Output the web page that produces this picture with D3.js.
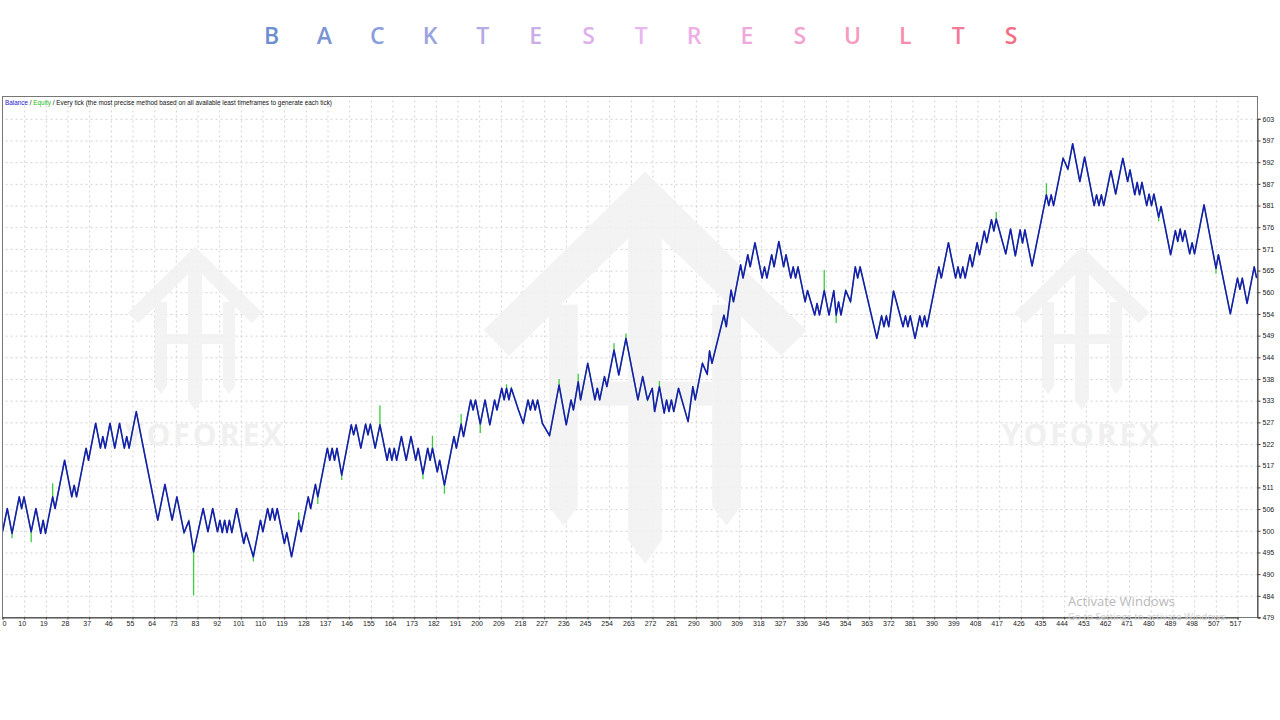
<!DOCTYPE html>
<html lang="en">
<head>
<meta charset="utf-8">
<title>Backtest Results</title>
<script src="https://d3js.org/d3.v7.min.js"></script>
<style>
  body { margin: 0; background: #fff; }
  svg { display: block; }
</style>
</head>
<body>
<script>
// ---- data ----
var titleLetters = ["B","A","C","K","T","E","S","T","R","E","S","U","L","T","S"];
var titleColors = ["#6d8fd0","#7b94d6","#8a9ddc","#9ba3de","#b4aae4","#caaee8","#ddb0ec","#e8b6f0",
                   "#eeaee6","#f0a8dc","#f3a2d0","#f59ac0","#f68bab","#f57c96","#f56e84"];

// y tick labels, bottom to top (evenly spaced in the chart)
var yLabels = [479,484,490,495,500,506,511,517,522,527,533,538,544,549,554,560,565,571,576,581,587,592,597,603];
// x tick labels (trade number), left to right
var xLabels = [0,10,19,28,37,46,55,64,73,83,92,101,110,119,128,137,146,155,164,173,182,191,200,209,218,227,236,245,
               254,263,272,281,290,300,309,318,327,336,345,354,363,372,381,390,399,408,417,426,435,444,453,462,471,480,
               489,498,507,517];

// balance turning points [trade, balance]
var balancePts = [
  [0,500.3],[2,506.1],[4,499.9],[7,509.0],[8,506.1],[9,509.0],[12,500.3],[14,506.1],[16,499.9],[17,503.2],
  [18,499.9],[21,509.0],[22,506.1],[26,518.1],[29,509.0],[30,511.9],[31,509.0],[35,521.1],[36,518.1],[39,527.3],
  [41,521.1],[42,524.0],[43,521.1],[45,527.3],[47,521.1],[49,527.3],[51,521.1],[52,524.0],[53,521.1],[56,530.2],
  [60,518.1],[65,503.2],[68,512.1],[71,503.2],[73,509.0],[76,500.1],[78,503.0],[80,495.3],[84,506.1],[86,500.3],
  [88,506.1],[90,500.3],[91,503.2],[92,500.1],[93,503.2],[94,500.1],[95,503.2],[96,500.1],[98,506.1],[101,497.4],
  [102,500.1],[105,494.1],[108,503.2],[109,500.3],[111,506.1],[112,503.2],[113,506.1],[114,503.2],[115,506.1],[118,497.4],
  [119,500.1],[121,494.1],[124,503.2],[125,500.3],[128,509.0],[129,506.1],[131,512.1],[132,509.0],[136,521.1],[137,518.1],
  [138,521.1],[139,518.1],[140,521.1],[142,514.4],[146,526.9],[147,524.4],[148,526.9],[150,521.1],[152,527.1],[153,524.4],
  [154,527.1],[156,521.1],[158,526.9],[161,518.1],[162,521.1],[163,518.1],[164,521.1],[165,518.1],[167,524.0],[169,518.1],
  [171,524.0],[173,518.1],[174,521.1],[176,514.7],[178,521.1],[179,518.1],[180,521.1],[182,515.2],[183,518.1],[185,511.9],
  [189,524.0],[190,521.1],[192,527.1],[193,524.0],[196,533.1],[197,530.6],[198,533.1],[200,527.1],[202,533.1],[204,526.9],
  [206,533.1],[207,530.6],[209,536.0],[210,533.1],[211,536.0],[212,533.1],[213,536.0],[216,530.6],[218,527.3],[220,533.1],
  [221,530.6],[222,533.1],[223,530.6],[224,533.1],[226,527.3],[229,524.2],[233,536.8],[236,526.9],[238,533.1],[239,530.6],
  [241,537.6],[242,533.1],[245,542.2],[248,533.1],[249,536.0],[250,533.1],[252,538.9],[253,536.4],[256,545.5],[258,539.3],
  [261,548.4],[266,533.1],[268,538.9],[270,533.1],[272,536.0],[273,530.2],[275,536.4],[277,529.8],[278,533.1],[279,530.2],
  [280,533.1],[281,530.2],[283,536.0],[287,527.7],[289,536.4],[290,533.1],[293,542.2],[295,539.5],[296,545.3],[297,542.2],
  [302,554.2],[303,551.3],[305,560.4],[306,557.5],[309,566.7],[310,563.4],[312,569.2],[313,566.2],[315,572.2],[318,563.4],
  [319,566.2],[320,563.4],[322,569.2],[323,566.2],[325,572.5],[327,566.2],[328,569.2],[330,563.4],[331,566.2],[332,563.4],
  [333,566.2],[336,557.5],[337,560.3],[340,554.2],[341,557.1],[342,554.2],[344,560.3],[346,554.2],[348,560.3],[349,554.2],
  [350,557.5],[351,554.2],[353,560.3],[355,557.5],[357,566.2],[358,563.4],[359,566.2],[366,548.4],[368,554.0],[369,551.3],
  [370,554.0],[371,551.3],[373,560.2],[377,551.3],[378,554.0],[379,551.3],[380,554.0],[382,548.4],[384,554.0],[385,551.3],
  [386,554.0],[387,551.3],[390,560.3],[392,566.2],[393,563.4],[396,572.2],[397,569.2],[399,563.4],[400,566.2],[401,563.4],
  [402,566.2],[403,563.4],[405,569.2],[406,566.2],[408,572.2],[409,569.2],[411,575.1],[412,572.2],[414,577.9],[415,575.1],
  [416,578.1],[420,569.4],[422,575.6],[424,568.9],[426,575.4],[427,572.1],[428,575.4],[431,566.4],[437,584.1],[438,581.4],
  [439,584.1],[440,581.4],[444,593.2],[446,590.5],[448,596.8],[451,587.4],[453,593.5],[457,581.4],[458,584.1],[459,581.4],
  [460,584.1],[461,581.4],[464,590.1],[466,584.3],[469,593.2],[471,587.4],[472,590.3],[474,584.1],[475,587.2],[476,584.1],
  [477,587.2],[479,581.4],[480,584.3],[481,581.4],[482,584.3],[484,578.5],[485,581.2],[489,569.2],[491,575.2],[492,572.5],
  [493,575.6],[494,572.5],[495,575.2],[497,569.4],[498,572.2],[499,569.4],[503,581.6],[508,565.8],[509,569.2],[514,554.5],
  [517,563.4],[518,560.6],[519,563.4],[521,557.1],[524,566.2],[525,563.4]
];

// equity excursions away from balance [trade, equity]
var equitySpikes = [
  [4,498.7],[12,497.7],[21,512.4],[80,484.5],[105,492.9],[124,505.2],[132,507.2],[142,513.2],[158,531.8],
  [176,513.4],[180,524.2],[185,509.8],[192,529.6],[200,524.9],[211,537.0],[233,538.3],[241,539.6],[256,547.2],
  [261,549.6],[275,537.8],[344,565.4],[349,552.2],[416,579.8],[437,587.0],[484,577.5],[508,564.5]
];

// ---- layout ----
var w = 1280, h = 720;
var plotL = 2.5, plotR = 1257.5, plotT = 96.5, plotB = 617.5;
var yMin = 479, yMax = 603;
var yStep = (yMax - yMin) / (yLabels.length - 1);
var xStep = 517 / (xLabels.length - 1);

var xScale = d3.scaleLinear().domain([0, 517]).range([plotL, 1237.5]);
var yScale = d3.scaleLinear().domain([yMin, yMax]).range([plotB, 118.8]);

var svg = d3.select("body").append("svg").attr("width", w).attr("height", h);

// title
var titleX = d3.scalePoint().domain(d3.range(titleLetters.length)).range([271.6, 1011]);
svg.append("g").selectAll("text").data(titleLetters).join("text")
  .attr("x", (d, i) => titleX(i)).attr("y", 44)
  .attr("text-anchor", "middle")
  .attr("font-family", "'Open Sans', sans-serif").attr("font-weight", 600).attr("font-size", 23)
  .attr("fill", (d, i) => titleColors[i])
  .text(d => d);

// grid
var yTicks = yLabels.map((d, i) => yMin + i * yStep);
var xTicks = xLabels.map((d, i) => i * xStep);

var grid = svg.append("g").attr("class", "grid");
grid.append("g").attr("transform", `translate(${plotR},0)`)
  .call(d3.axisRight(yScale).tickValues(yTicks.slice(1)).tickSize(-(plotR - plotL)).tickFormat(""));
grid.append("g").attr("transform", `translate(0,${plotB})`)
  .call(d3.axisBottom(xScale).tickValues(xTicks.slice(1)).tickSize(-(plotB - plotT)).tickFormat(""));
grid.selectAll(".domain").remove();
grid.selectAll("line").attr("stroke", "#d2d2d2").attr("stroke-dasharray", "2,3").attr("stroke-width", 1);

// watermark logos (very faint)
function logo(cx, top, s) {
  var g = svg.append("g").attr("transform", `translate(${cx},${top}) scale(${s})`)
    .attr("fill", "#f2f2f2").attr("stroke", "#f2f2f2").attr("opacity", 0.9);
  g.append("polyline").attr("points", "-62,68 0,7 62,68").attr("fill", "none").attr("stroke-width", 15);
  g.append("polygon").attr("points", "-7,18 7,18 7,150 0,160 -7,150").attr("stroke", "none");
  g.append("polygon").attr("points", "-40,52 -28,52 -28,136 -34,144 -40,136").attr("stroke", "none");
  g.append("polygon").attr("points", "40,52 28,52 28,136 34,144 40,136").attr("stroke", "none");
  g.append("rect").attr("x", -28).attr("y", 84).attr("width", 56).attr("height", 10).attr("stroke", "none");
}
logo(195, 250, 1);
logo(1082, 250, 1);
logo(645, 180, 2.4);
svg.selectAll("text.wm").data([205, 1082]).join("text").attr("class", "wm")
  .attr("x", d => d).attr("y", 446).attr("text-anchor", "middle")
  .attr("font-family", "'Open Sans', sans-serif").attr("font-weight", 700).attr("font-size", 30)
  .attr("letter-spacing", 3).attr("fill", "#f0f0f0").text("YOFOREX");

// lines
svg.append("clipPath").attr("id", "plotClip").append("rect")
  .attr("x", plotL).attr("y", plotT).attr("width", plotR - plotL).attr("height", plotB - plotT);

var eqMap = new Map(equitySpikes.map(d => [d[0], d[1]]));
var equityPts = [];
balancePts.forEach(function (d) {
  equityPts.push(d);
  if (eqMap.has(d[0])) { equityPts.push([d[0], eqMap.get(d[0])]); equityPts.push(d); }
});

var line = d3.line().x(d => xScale(d[0])).y(d => yScale(d[1]));
var lines = svg.append("g").attr("clip-path", "url(#plotClip)");
lines.append("path").datum(equityPts).attr("d", line)
  .attr("fill", "none").attr("stroke", "#3ccc3c").attr("stroke-width", 1.3);
lines.append("path").datum(balancePts).attr("d", line)
  .attr("fill", "none").attr("stroke", "#1a1ab4").attr("stroke-width", 1.55).attr("stroke-linejoin", "round");

// frame
svg.append("rect").attr("x", plotL).attr("y", plotT).attr("width", plotR - plotL).attr("height", plotB - plotT)
  .attr("fill", "none").attr("stroke", "#777").attr("stroke-width", 1);

// axes
var yAxis = svg.append("g").attr("transform", `translate(${plotR},0)`)
  .call(d3.axisRight(yScale).tickValues(yTicks).tickSize(3).tickPadding(2).tickFormat((d, i) => yLabels[i]));
var xAxis = svg.append("g").attr("transform", `translate(0,${plotB})`)
  .call(d3.axisBottom(xScale).tickValues(xTicks).tickSize(2).tickPadding(2).tickFormat((d, i) => xLabels[i]));
[yAxis, xAxis].forEach(function (a) {
  a.selectAll(".domain").attr("stroke", "#444");
  a.selectAll("line").attr("stroke", "#444");
  a.selectAll("text").attr("font-family", "'Liberation Sans', Arial, sans-serif").attr("font-size", 7).attr("fill", "#222");
});
xAxis.selectAll("text").attr("dx", (d, i) => i === 0 ? 1.5 : -2.5);
svg.append("line").attr("x1", plotR).attr("x2", plotR + 3).attr("y1", plotB).attr("y2", plotB).attr("stroke", "#444");

// legend
var legend = svg.append("text").attr("x", 5).attr("y", 104.5)
  .attr("font-family", "'Liberation Sans', Arial, sans-serif").attr("font-size", 6.5).attr("fill", "#111")
  .attr("textLength", 327).attr("lengthAdjust", "spacingAndGlyphs");
legend.append("tspan").attr("fill", "#2020d0").text("Balance");
legend.append("tspan").text(" / ");
legend.append("tspan").attr("fill", "#22bb22").text("Equity");
legend.append("tspan").text(" / Every tick (the most precise method based on all available least timeframes to generate each tick)");

// windows overlay text
svg.append("text").attr("x", 1068).attr("y", 606)
  .attr("font-family", "'Open Sans', sans-serif").attr("font-size", 13).attr("fill", "#b8b8b8")
  .attr("textLength", 107).text("Activate Windows");
svg.append("text").attr("x", 1068).attr("y", 620)
  .attr("font-family", "'Open Sans', sans-serif").attr("font-size", 9.5).attr("fill", "#cccccc")
  .attr("textLength", 160).text("Go to Settings to activate Windows.");
</script>
</body>
</html>
